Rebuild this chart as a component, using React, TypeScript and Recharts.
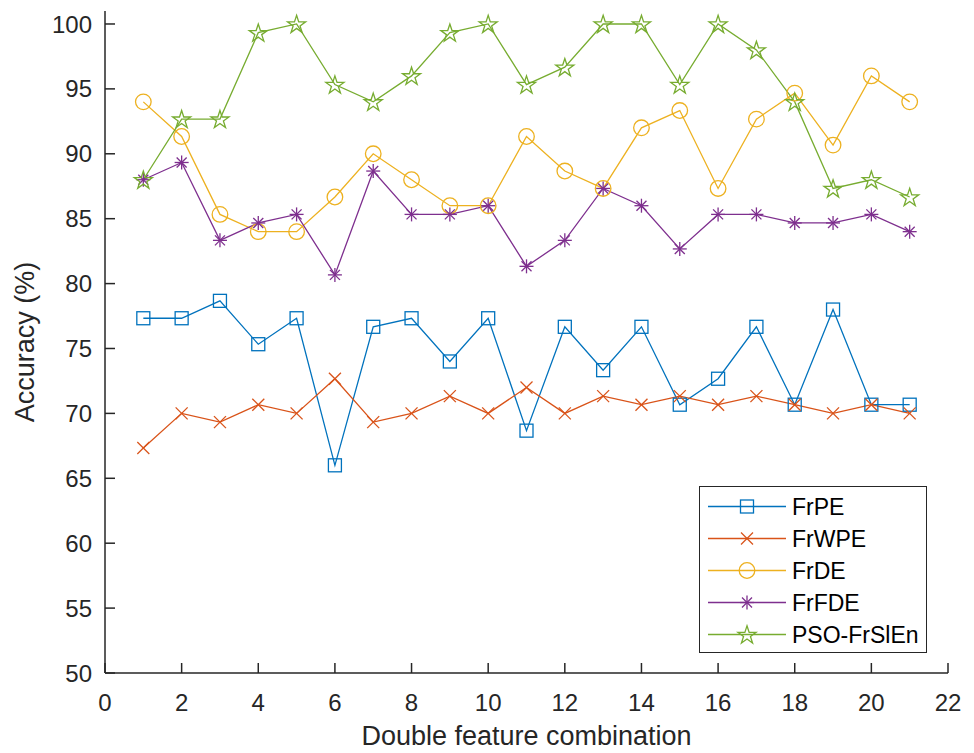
import React from 'react';
import { LineChart, Line, XAxis, YAxis, Label } from 'recharts';

const combos = [1, 2, 3, 4, 5, 6, 7, 8, 9, 10, 11, 12, 13, 14, 15, 16, 17, 18, 19, 20, 21];
const frPE = [77.33, 77.33, 78.67, 75.33, 77.33, 66, 76.67, 77.33, 74, 77.33, 68.67, 76.67, 73.33, 76.67, 70.67, 72.67, 76.67, 70.67, 78, 70.67, 70.67];
const frWPE = [67.33, 70, 69.33, 70.67, 70, 72.67, 69.33, 70, 71.33, 70, 72, 70, 71.33, 70.67, 71.33, 70.67, 71.33, 70.67, 70, 70.67, 70];
const frDE = [94, 91.33, 85.33, 84, 84, 86.67, 90, 88, 86, 86, 91.33, 88.67, 87.33, 92, 93.33, 87.33, 92.67, 94.67, 90.67, 96, 94];
const frFDE = [88, 89.33, 83.33, 84.67, 85.33, 80.67, 88.67, 85.33, 85.33, 86, 81.33, 83.33, 87.33, 86, 82.67, 85.33, 85.33, 84.67, 84.67, 85.33, 84];
const psoFrSlEn = [88, 92.67, 92.67, 99.33, 100, 95.33, 94, 96, 99.33, 100, 95.33, 96.67, 100, 100, 95.33, 100, 98, 94, 87.33, 88, 86.67];

const xTicks = [0, 2, 4, 6, 8, 10, 12, 14, 16, 18, 20, 22];
const yTicks = [50, 55, 60, 65, 70, 75, 80, 85, 90, 95, 100];

const FONT = '"Liberation Sans", Arial, Helvetica, sans-serif';
const AXIS = '#262626';

type Shape = 'square' | 'x' | 'circle' | 'asterisk' | 'star';

const series: { key: string; name: string; color: string; shape: Shape; values: number[] }[] = [
  { key: 'frPE', name: 'FrPE', color: '#0072BD', shape: 'square', values: frPE },
  { key: 'frWPE', name: 'FrWPE', color: '#D95319', shape: 'x', values: frWPE },
  { key: 'frDE', name: 'FrDE', color: '#EDB120', shape: 'circle', values: frDE },
  { key: 'frFDE', name: 'FrFDE', color: '#7E2F8E', shape: 'asterisk', values: frFDE },
  { key: 'pso', name: 'PSO-FrSlEn', color: '#77AC30', shape: 'star', values: psoFrSlEn },
];

const data = combos.map((x, i) => {
  const row: Record<string, number> = { x };
  series.forEach((s) => (row[s.key] = s.values[i]));
  return row;
});

function starPoints(cx: number, cy: number, R: number) {
  const r = R * 0.382;
  const pts: string[] = [];
  for (let i = 0; i < 10; i++) {
    const rad = i % 2 === 0 ? R : r;
    const a = -Math.PI / 2 + (i * Math.PI) / 5;
    pts.push(`${(cx + rad * Math.cos(a)).toFixed(2)},${(cy + rad * Math.sin(a)).toFixed(2)}`);
  }
  return pts.join(' ');
}

function Marker({ shape, cx, cy, color }: { shape: Shape; cx: number; cy: number; color: string }) {
  const sw = 1.3;
  if (shape === 'square') {
    return <rect x={cx - 6.5} y={cy - 6.5} width={13} height={13} fill="none" stroke={color} strokeWidth={sw} />;
  }
  if (shape === 'circle') {
    return <circle cx={cx} cy={cy} r={7.8} fill="none" stroke={color} strokeWidth={sw} />;
  }
  if (shape === 'x') {
    const d = 6;
    return (
      <g stroke={color} strokeWidth={sw}>
        <line x1={cx - d} y1={cy - d} x2={cx + d} y2={cy + d} />
        <line x1={cx - d} y1={cy + d} x2={cx + d} y2={cy - d} />
      </g>
    );
  }
  if (shape === 'asterisk') {
    const d = 7;
    const e = 5;
    return (
      <g stroke={color} strokeWidth={sw}>
        <line x1={cx - d} y1={cy} x2={cx + d} y2={cy} />
        <line x1={cx} y1={cy - d} x2={cx} y2={cy + d} />
        <line x1={cx - e} y1={cy - e} x2={cx + e} y2={cy + e} />
        <line x1={cx - e} y1={cy + e} x2={cx + e} y2={cy - e} />
      </g>
    );
  }
  return <polygon points={starPoints(cx, cy + 0.8, 9.5)} fill="none" stroke={color} strokeWidth={sw} strokeLinejoin="miter" />;
}

const makeDot = (shape: Shape, color: string) => (props: any) => {
  if (props.cx == null || props.cy == null) return <g key={props.index} />;
  return <Marker key={props.index} shape={shape} cx={props.cx} cy={props.cy} color={color} />;
};

const LegendBox = () => (
  <div
    style={{
      position: 'absolute',
      left: 699,
      top: 486,
      width: 228,
      height: 167,
      boxSizing: 'border-box',
      border: `1px solid ${AXIS}`,
      background: '#fff',
    }}
  >
    <svg width={226} height={165} style={{ display: 'block' }}>
      {series.map((s, i) => {
        const y = 19.5 + i * 32;
        return (
          <g key={s.key}>
            <line x1={8} x2={86} y1={y} y2={y} stroke={s.color} strokeWidth={1.3} />
            <Marker shape={s.shape} cx={47} cy={y} color={s.color} />
            <text x={92} y={y + 8} fontSize={23} fontFamily={FONT} fill="#000">
              {s.name}
            </text>
          </g>
        );
      })}
    </svg>
  </div>
);

const tickStyle = { fill: AXIS, fontSize: 24, fontFamily: FONT };
const noTick = () => <g />;

export default function App() {
  return (
    <div style={{ position: 'absolute', left: 0, top: 0, width: 974, height: 753, background: '#fff' }}>
      <LineChart
        width={974}
        height={753}
        data={data}
        margin={{ top: 11, right: 26, bottom: 0, left: 0 }}
      >
        <XAxis
          dataKey="x"
          type="number"
          domain={[0, 22]}
          ticks={xTicks}
          interval={0}
          height={80}
          tickSize={-10}
          tickMargin={31}
          tick={tickStyle}
          stroke={AXIS}
          axisLine={{ stroke: AXIS, strokeWidth: 1.5 }}
          tickLine={{ stroke: AXIS, strokeWidth: 1.5 }}
        >
          <Label
            value="Double feature combination"
            position="insideBottom"
            offset={8}
            style={{ fill: AXIS, fontSize: 27, fontFamily: FONT }}
          />
        </XAxis>
        <XAxis
          xAxisId="top"
          dataKey="x"
          type="number"
          orientation="top"
          domain={[0, 22]}
          ticks={xTicks}
          interval={0}
          height={0}
          tickSize={-10}
          tick={noTick}
          axisLine={{ stroke: AXIS, strokeWidth: 1.5 }}
          tickLine={{ stroke: AXIS, strokeWidth: 1.5 }}
        />
        <YAxis
          type="number"
          domain={[50, 101]}
          ticks={yTicks}
          interval={0}
          width={105}
          tickSize={-10}
          tickMargin={23}
          tick={tickStyle}
          axisLine={{ stroke: AXIS, strokeWidth: 1.5 }}
          tickLine={{ stroke: AXIS, strokeWidth: 1.5 }}
        >
          <Label
            value="Accuracy (%)"
            angle={-90}
            position="insideLeft"
            offset={24}
            style={{ fill: AXIS, fontSize: 27, fontFamily: FONT, textAnchor: 'middle' }}
          />
        </YAxis>
        <YAxis
          yAxisId="right"
          orientation="right"
          type="number"
          domain={[50, 101]}
          ticks={yTicks}
          interval={0}
          width={0}
          tickSize={-10}
          tick={noTick}
          axisLine={{ stroke: AXIS, strokeWidth: 1.5 }}
          tickLine={{ stroke: AXIS, strokeWidth: 1.5 }}
        />
        {series.map((s) => (
          <Line
            key={s.key}
            dataKey={s.key}
            name={s.name}
            type="linear"
            stroke={s.color}
            strokeWidth={1.3}
            dot={makeDot(s.shape, s.color)}
            activeDot={false}
            isAnimationActive={false}
          />
        ))}
      </LineChart>
      <LegendBox />
    </div>
  );
}
